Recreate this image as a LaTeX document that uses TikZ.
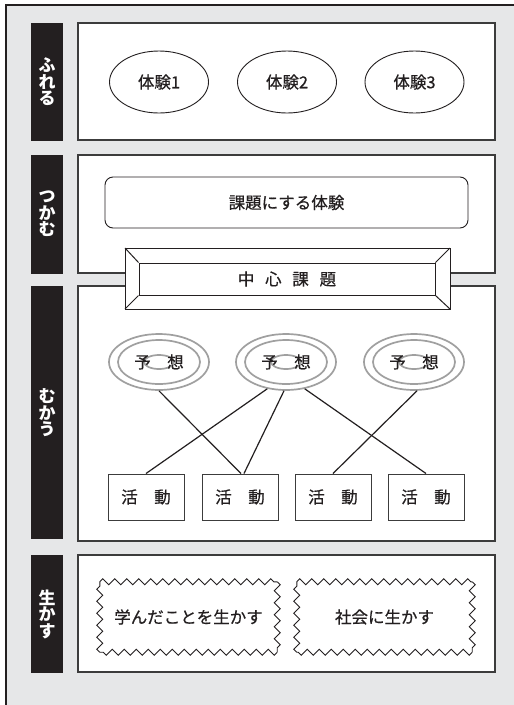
\documentclass[tikz,border=0pt]{standalone}
\usepackage{fontspec}
\setmainfont{Noto Sans CJK JP}
\newfontfamily\medfont{Noto Sans CJK JP}[FakeBold=0.6]
\usetikzlibrary{shapes.geometric,decorations.pathmorphing,calc}
\definecolor{bggray}{HTML}{E6E7E8}
\definecolor{ink}{HTML}{231F20}
\definecolor{ringgray}{HTML}{A0A0A0}
\definecolor{edge}{HTML}{3C3C3C}
\begin{document}
\begin{tikzpicture}[x=1pt,y=-1pt,
  txt/.style={font=\medfont\fontsize{16.5}{18}\selectfont, text=ink},
  sect/.style={draw=edge, line width=1.2pt, fill=white},
  barbox/.style={fill=ink},
  vlabel/.style={text=white, font=\bfseries\fontsize{17}{16.5}\selectfont, align=center, inner sep=0pt},
  ell/.style={txt, ellipse, draw=ink, line width=0.9pt, minimum width=99pt, minimum height=62pt, inner sep=0pt},
  ringbox/.style={ellipse, draw=ringgray, line width=1.7pt, minimum width=100pt, minimum height=56pt, inner sep=0pt},
  ringline/.style={draw=ringgray, line width=1.7pt},
  actbox/.style={txt, draw=edge, line width=1pt, fill=white, minimum width=76pt, minimum height=46pt, inner sep=0pt},
  conn/.style={draw=ink, line width=1.2pt},
  zzbox/.style={txt, minimum height=70pt, inner sep=0pt},
  zzline/.style={draw=ink, line width=0.9pt, decorate, decoration={zigzag, segment length=12pt, amplitude=3pt}},
  bevel/.style={draw=ink, line width=1pt}]
\useasboundingbox (0,0) rectangle (514,705);
\fill[white] (0,0) rectangle (514,705);
\draw[fill=bggray, draw=ink, line width=1.8pt] (6,5) rectangle (530,720);

% sections
\draw[sect] (78,23) rectangle (495,140);
\draw[sect] (78,155) rectangle (495,273);
\draw[sect] (78,286) rectangle (495,541);
\draw[sect] (78,555) rectangle (495,672);
\fill[barbox] (31,23) rectangle (63,141);
\fill[barbox] (31,155) rectangle (63,274);
\fill[barbox] (31,286) rectangle (63,539);
\fill[barbox] (31,555) rectangle (63,673);
\node[vlabel] (l1) at (47,82) {ふ\\れ\\る};
\node[vlabel] (l2) at (47,214) {つ\\か\\む};
\node[vlabel] (l3) at (47,413) {む\\か\\う};
\node[vlabel] (l4) at (47,614) {生\\か\\す};

% section 1
\node[ell] (e1) at (159,82) {体験1};
\node[ell] (e2) at (287,82) {体験2};
\node[ell] (e3) at (414.5,82) {体験3};

% section 2
\node[txt, draw=ink, line width=0.9pt, rounded corners=8pt, minimum width=363pt, minimum height=51pt, inner sep=0pt] (task) at (286.5,202.5) {課題にする体験};

% bevel
\coordinate (bv1) at (125,248);
\coordinate (bv2) at (450,248);
\coordinate (bv3) at (450,309);
\coordinate (bv4) at (125,309);
\filldraw[bevel, fill=white] (bv1) -- (bv2) -- (bv3) -- (bv4) -- cycle;
\node[txt, bevel, minimum width=296pt, minimum height=32pt, inner sep=0pt] (core) at (287,279) {中\hspace{.65em}心\hspace{.65em}課\hspace{.65em}題};
\draw[bevel] (bv1) -- (core.north west);
\draw[bevel] (bv2) -- (core.north east);
\draw[bevel] (bv3) -- (core.south east);
\draw[bevel] (bv4) -- (core.south west);

% rings
\foreach \n/\x in {r1/159, r2/286, r3/414}{
  \node[ringbox] (\n) at (\x,362) {};
  \draw[ringline] (\n.center) ellipse [x radius=41pt, y radius=22pt];
  \draw[ringline] (\n.center) ellipse [x radius=15pt, y radius=7pt];
  \node[txt] (\n t) at (\x,362) {予\hspace{1em}想};
}

% activities
\node[actbox] (b1) at (146,497) {活\hspace{1em}動};
\node[actbox] (b2) at (240,497) {活\hspace{1em}動};
\node[actbox] (b3) at (333,497) {活\hspace{1em}動};
\node[actbox] (b4) at (426,497) {活\hspace{1em}動};

\draw[conn] (r1.270) -- ([xshift=1pt]b2.north);
\draw[conn] (r2.235) -- (b1.north);
\draw[conn] (r2.266) -- ([xshift=4pt]b2.north);
\draw[conn] (r2.305) -- (b4.north);
\draw[conn] (r3.276) -- (b3.north);

% section 4
\node[zzbox, minimum width=177pt] (z1) at (188.5,617) {学んだことを生かす};
\node[zzbox, minimum width=175pt] (z2) at (384.5,617) {社会に生かす};
\foreach \z in {z1,z2}{
  \draw[zzline] (\z.north west) -- (\z.north east);
  \draw[zzline] (\z.north east) -- (\z.south east);
  \draw[zzline] (\z.south east) -- (\z.south west);
  \draw[zzline] (\z.south west) -- (\z.north west);
}
\end{tikzpicture}
\end{document}
